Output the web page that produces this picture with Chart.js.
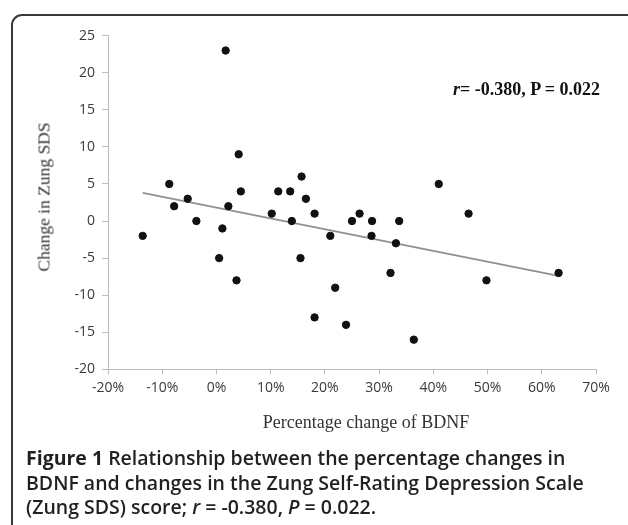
<!DOCTYPE html>
<html>
<head>
<meta charset="utf-8">
<script src="https://cdn.jsdelivr.net/npm/chart.js@4/dist/chart.umd.min.js"></script>
<style>
  html, body { margin: 0; padding: 0; background: #fff; }
  #wrap { position: relative; width: 628px; height: 525px; overflow: hidden; }
  #frame {
    position: absolute; left: 11px; top: 14px; width: 700px; height: 600px;
    border: 2px solid #3a3a3a; border-top-left-radius: 11px; box-sizing: border-box;
  }
  #chart { position: absolute; left: 0; top: 0; }
  .ytitle {
    position: absolute; left: 44px; top: 197px; transform: translate(-50%, -50%) rotate(-90deg);
    font-family: "Liberation Serif", serif; font-size: 17.5px; color: #333; white-space: nowrap;
  }
  .xtitle {
    position: absolute; left: 366px; top: 422px; transform: translate(-50%, -50%);
    font-family: "Liberation Serif", serif; font-size: 18px; color: #333; white-space: nowrap;
  }
  .stat {
    position: absolute; left: 453px; top: 89px; transform: translateY(-50%);
    font-family: "Liberation Serif", serif; font-weight: bold; font-size: 18px; color: #111; white-space: nowrap;
  }
  .caption {
    position: absolute; left: 26px; top: 446px;
    font-family: "Open Sans", sans-serif; font-weight: 600; font-size: 19.5px; line-height: 24.5px;
    color: #231f20; white-space: nowrap;
  }
  .caption b { font-weight: 700; }
</style>
</head>
<body>
<div id="wrap">
  <div id="frame"></div>
  <canvas id="chart" width="628" height="525"></canvas>
  <div class="ytitle">Change in Zung SDS</div>
  <div class="xtitle">Percentage change of BDNF</div>
  <div class="stat"><i>r</i>= -0.380, P = 0.022</div>
  <div class="caption"><b>Figure 1</b> Relationship between the percentage changes in<br>BDNF and changes in the Zung Self-Rating Depression Scale<br>(Zung SDS) score; <i>r</i> = -0.380, <i>P</i> = 0.022.</div>
</div>
<script>
// percentage change of BDNF (%) for each subject
const bdnfChange = [-13.6, -8.7, -7.8, -5.3, -3.7, 0.5, 1.1, 1.7, 2.2, 3.7, 4.1, 4.5,
  10.2, 11.4, 13.6, 13.9, 15.7, 15.5, 16.5, 18.1, 18.1, 21.0, 21.9, 23.9,
  25.0, 26.4, 28.7, 28.6, 32.1, 33.1, 33.7, 36.4, 41.0, 46.5, 49.8, 63.1];
// change in Zung SDS score
const sdsChange = [-2, 5, 2, 3, 0, -5, -1, 23, 2, -8, 9, 4,
  1, 4, 4, 0, 6, -5, 3, 1, -13, -2, -9, -14,
  0, 1, 0, -2, -7, -3, 0, -16, 5, 1, -8, -7];
// fitted line ends
const trendX = [-13.6, 63.1];
const trendY = [3.8, -7.4];

const points = bdnfChange.map((x, i) => ({ x: x, y: sdsChange[i] }));
const trend = trendX.map((x, i) => ({ x: x, y: trendY[i] }));

const tickFont = { family: "Open Sans", size: 14 };
const axisGray = '#bdbdbd';

new Chart(document.getElementById('chart').getContext('2d'), {
  type: 'scatter',
  data: {
    datasets: [{
      label: 'Zung SDS', data: points, backgroundColor: '#111', borderColor: '#111',
      pointRadius: 3.7, pointHoverRadius: 3.7, order: 1
    }, {
      type: 'line', label: 'Trend', data: trend, borderColor: '#909090', borderWidth: 1.6,
      pointRadius: 0, fill: false, order: 2
    }]
  },
  options: {
    responsive: false, animation: false, devicePixelRatio: 1,
    layout: { padding: { left: 0, right: 32, top: 35.7, bottom: 85 } },
    plugins: { legend: { display: false }, tooltip: { enabled: false } },
    scales: {
      x: {
        type: 'linear', min: -20, max: 70,
        afterFit: (scale) => { scale.height = 70.7; },
        ticks: {
          stepSize: 10, color: '#3a3a3a', font: tickFont, padding: 5,
          callback: (v) => v + '%'
        },
        grid: { drawOnChartArea: false, drawTicks: true, tickLength: 5, color: axisGray },
        border: { color: axisGray, width: 1 }
      },
      y: {
        min: -20, max: 25,
        afterFit: (scale) => { scale.width = 108; },
        ticks: { stepSize: 5, color: '#3a3a3a', font: tickFont, padding: 7 },
        grid: { drawOnChartArea: false, drawTicks: true, tickLength: 6, color: axisGray },
        border: { color: axisGray, width: 1 }
      }
    }
  }
});
</script>
</body>
</html>
